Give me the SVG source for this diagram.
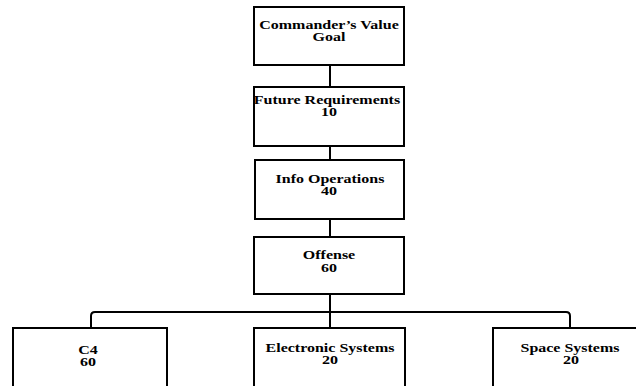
<svg xmlns="http://www.w3.org/2000/svg" width="636" height="386" viewBox="0 0 636 386">
<style>
.box{fill:#fff;stroke:#000;stroke-width:2}
.conn{fill:none;stroke:#000;stroke-width:2}
text{font-family:"Liberation Serif","Times New Roman",serif;font-weight:bold;font-size:16px;text-anchor:middle;fill:#000}
</style>
<rect width="636" height="386" fill="#fff"/>
<g id="connectors">
<path class="conn" d="M330 65V87M330 146V160M330 219V237M330 294V328"/>
<path class="conn" d="M91 328V316Q91 312 95 312H566Q570 312 570 316V328"/>
</g>
<g id="n-commander">
<rect class="box" x="254" y="7" width="150" height="58"/>
<text transform="translate(329 29) scale(1 0.78)">Commander’s Value</text>
<text transform="translate(329 41) scale(1 0.78)">Goal</text>
</g>
<g id="n-future">
<rect class="box" x="254" y="87" width="150" height="59"/>
<text transform="translate(327 104) scale(1 0.78)">Future Requirements</text>
<text transform="translate(329 116) scale(1 0.78)">10</text>
</g>
<g id="n-info">
<rect class="box" x="255" y="160" width="149" height="59"/>
<text transform="translate(330 183) scale(1 0.78)">Info Operations</text>
<text transform="translate(329 195) scale(1 0.78)">40</text>
</g>
<g id="n-offense">
<rect class="box" x="254" y="237" width="150" height="57"/>
<text transform="translate(329 259) scale(1 0.78)">Offense</text>
<text transform="translate(329 272) scale(1 0.78)">60</text>
</g>
<g id="n-c4">
<rect class="box" x="13" y="328" width="154" height="70"/>
<text transform="translate(88 354) scale(1 0.78)">C4</text>
<text transform="translate(88 366) scale(1 0.78)">60</text>
</g>
<g id="n-electronic">
<rect class="box" x="254" y="328" width="151" height="70"/>
<text transform="translate(330 352) scale(1 0.78)">Electronic Systems</text>
<text transform="translate(330 364) scale(1 0.78)">20</text>
</g>
<g id="n-space">
<rect class="box" x="493" y="328" width="154" height="70"/>
<text transform="translate(570 352) scale(1 0.78)">Space Systems</text>
<text transform="translate(571 364) scale(1 0.78)">20</text>
</g>
</svg>
